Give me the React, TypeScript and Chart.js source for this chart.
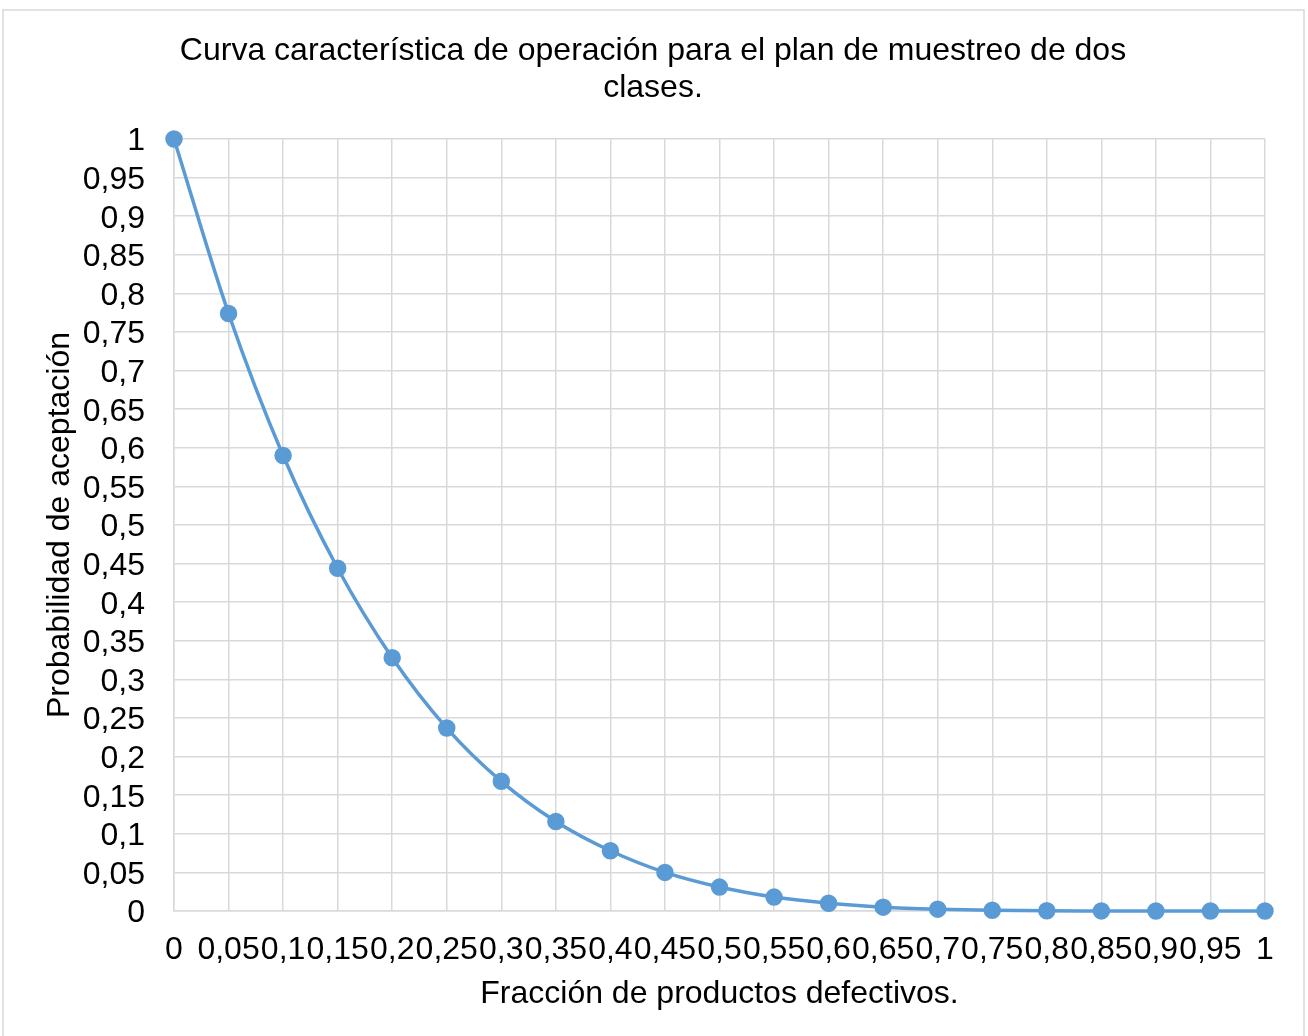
import React, { useEffect, useRef } from "react";
import { Chart, registerables } from "chart.js";

Chart.register(...registerables);

// Fracción de productos defectivos (p)
const fractions: number[] = [
  0, 0.05, 0.1, 0.15, 0.2, 0.25, 0.3, 0.35, 0.4, 0.45, 0.5,
  0.55, 0.6, 0.65, 0.7, 0.75, 0.8, 0.85, 0.9, 0.95, 1,
];

// Probabilidad de aceptación Pa(p)
const acceptance: number[] = [
  1, 0.774, 0.59, 0.444, 0.328, 0.237, 0.168, 0.116, 0.078, 0.05, 0.031,
  0.018, 0.01, 0.005, 0.0024, 0.001, 0.0003, 0.0001, 0.00003, 0.000003, 0,
];

const titleLines: string[] = [
  "Curva característica de operación para el plan de muestreo de dos",
  "clases.",
];
const xTitle = "Fracción de productos defectivos.";
const yTitle = "Probabilidad de aceptación";

const FONT = "'Liberation Sans', Arial, sans-serif";
const GRID = "#D9D9D9";
const SERIES = "#5B9BD5";

const fmt = (v: number) =>
  parseFloat(Number(v).toFixed(2)).toString().replace(".", ",");

const decorations = {
  id: "decorations",
  afterDraw(chart: Chart) {
    const ctx = chart.ctx;
    const area = chart.chartArea;
    ctx.save();
    // outer frame
    ctx.strokeStyle = GRID;
    ctx.lineWidth = 1.5;
    ctx.strokeRect(3, 10, 1301, 1040);
    ctx.fillStyle = "#000";
    ctx.font = `32px ${FONT}`;
    ctx.textAlign = "center";
    ctx.textBaseline = "middle";
    // title
    ctx.fillText(titleLines[0], 653, 51);
    ctx.fillText(titleLines[1], 653, 88);
    // x axis title
    ctx.fillText(xTitle, (area.left + area.right) / 2, 994);
    // y axis title
    ctx.translate(60, (area.top + area.bottom) / 2);
    ctx.rotate(-Math.PI / 2);
    ctx.fillText(yTitle, 0, 0);
    ctx.restore();
  },
};

export default function App() {
  const ref = useRef<HTMLCanvasElement | null>(null);

  useEffect(() => {
    if (!ref.current) return;
    const chart = new Chart(ref.current, {
      type: "line",
      data: {
        datasets: [
          {
            data: fractions.map((x, i) => ({ x, y: acceptance[i] })),
            borderColor: SERIES,
            backgroundColor: SERIES,
            borderWidth: 3.5,
            pointRadius: 7,
            pointHoverRadius: 7,
            pointBackgroundColor: SERIES,
            pointBorderColor: SERIES,
            cubicInterpolationMode: "monotone",
            clip: false as any,
          },
        ],
      },
      options: {
        responsive: false,
        animation: false,
        layout: { padding: { left: 0, top: 139, right: 43, bottom: 0 } },
        plugins: {
          legend: { display: false },
          title: { display: false },
          tooltip: { enabled: false },
        },
        scales: {
          x: {
            type: "linear",
            min: 0,
            max: 1,
            grid: { color: GRID, lineWidth: 1.5, drawTicks: false },
            border: { color: GRID, width: 1.5 },
            ticks: {
              stepSize: 0.05,
              autoSkip: false,
              maxRotation: 0,
              minRotation: 0,
              padding: 20,
              color: "#000",
              font: { family: FONT, size: 32 },
              callback: (v: any) => fmt(v),
            },
            afterFit: (scale: any) => {
              scale.height = 125;
            },
          },
          y: {
            min: 0,
            max: 1,
            grid: { color: GRID, lineWidth: 1.5, drawTicks: false },
            border: { color: GRID, width: 1.5 },
            ticks: {
              stepSize: 0.05,
              autoSkip: false,
              padding: 29,
              color: "#000",
              // two-line label with a short line height nudges the text onto the grid line
              font: { family: FONT, size: 32, lineHeight: "5px" },
              callback: (v: any) => ["", fmt(v)],
            },
            afterFit: (scale: any) => {
              scale.width = 174;
            },
          },
        },
      },
      plugins: [decorations],
    });
    return () => chart.destroy();
  }, []);

  return (
    <div style={{ position: "absolute", left: 0, top: 0, width: 1308, height: 1036, background: "#fff" }}>
      <canvas ref={ref} width={1308} height={1036} style={{ display: "block" }} />
    </div>
  );
}
